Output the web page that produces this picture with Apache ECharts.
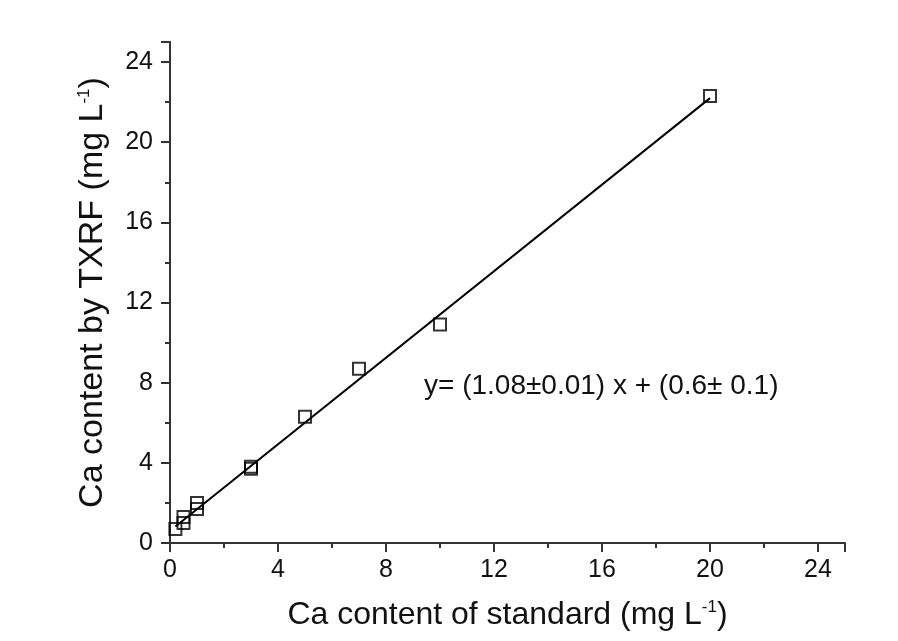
<!DOCTYPE html>
<html>
<head>
<meta charset="utf-8">
<script src="https://cdn.jsdelivr.net/npm/echarts@6/dist/echarts.min.js"></script>
<style>html,body{margin:0;padding:0;background:#fff}#c{width:898px;height:641px}</style>
</head>
<body>
<div id="c"></div>
<script>
// Data
var standardX = [0.2, 0.5, 0.5, 1, 1, 3, 3, 5, 7, 10, 20];
var txrfY     = [0.7, 1.0, 1.3, 1.7, 2.0, 3.7, 3.8, 6.3, 8.7, 10.9, 22.3];
var fitLineX  = [0.2, 20];
var fitLineY  = [0.82, 22.2];
var xTicks = [0, 4, 8, 12, 16, 20, 24];
var yTicks = [0, 4, 8, 12, 16, 20, 24];
var equationText = 'y= (1.08\u00B10.01) x + (0.6\u00B1 0.1)';

var points = standardX.map(function (x, i) { return [x, txrfY[i]]; });
var fit = fitLineX.map(function (x, i) { return [x, fitLineY[i]]; });

var font = '"Liberation Sans", Arial, sans-serif';
function nameStyle(size) {
  return {
    color: '#111', fontSize: size, fontFamily: font,
    rich: {
      n: { fontSize: size, fontFamily: font, color: '#111' },
      s: { fontSize: 17, fontFamily: font, color: '#111', verticalAlign: 'top', padding: [0, 0, 16, 0] }
    }
  };
}
var axisCommon = {
  min: 0, max: 25, interval: 4,
  axisLine: { show: true, onZero: false, lineStyle: { color: '#333', width: 2 } },
  axisTick: { show: true, inside: false, length: 9, lineStyle: { color: '#333', width: 2 } },
  minorTick: { show: true, splitNumber: 2, length: 5, lineStyle: { color: '#333', width: 2 } },
  splitLine: { show: false },
  axisLabel: {
    color: '#111', fontSize: 25, fontFamily: font,
    formatter: function (v) { return xTicks.indexOf(v) >= 0 ? String(v) : ''; }
  },
  nameLocation: 'middle',
  nameMoveOverlap: false
};

var chart = echarts.init(document.getElementById('c'));
chart.setOption({
  backgroundColor: '#fff',
  animation: false,
  grid: { left: 170, right: 53, top: 42, bottom: 98 },
  xAxis: Object.assign({}, axisCommon, {
    type: 'value',
    name: '{n|Ca content of standard (mg L}{s|-1}{n|)}',
    nameGap: 56,
    nameTextStyle: nameStyle(32),
    axisLabel: Object.assign({}, axisCommon.axisLabel, { margin: 15 })
  }),
  yAxis: Object.assign({}, axisCommon, {
    type: 'value',
    name: '{n|Ca content by TXRF (mg L}{s|-1}{n|)}',
    nameGap: 60,
    nameTextStyle: nameStyle(34),
    axisLabel: Object.assign({}, axisCommon.axisLabel, {
      margin: 17,
      formatter: function (v) { return yTicks.indexOf(v) >= 0 ? String(v) : ''; }
    })
  }),
  graphic: [{
    type: 'text', left: 424, top: 372,
    style: { text: equationText, fontSize: 28, fontFamily: font, fill: '#111' }
  }],
  series: [
    {
      type: 'line', data: fit, showSymbol: false, symbol: 'none',
      lineStyle: { color: '#000', width: 2 }, z: 2
    },
    {
      type: 'scatter', data: points, symbol: 'rect', symbolSize: 12,
      itemStyle: { color: 'rgba(255,255,255,0)', borderColor: '#000', borderWidth: 2 }, z: 3
    }
  ]
});
</script>
</body>
</html>
